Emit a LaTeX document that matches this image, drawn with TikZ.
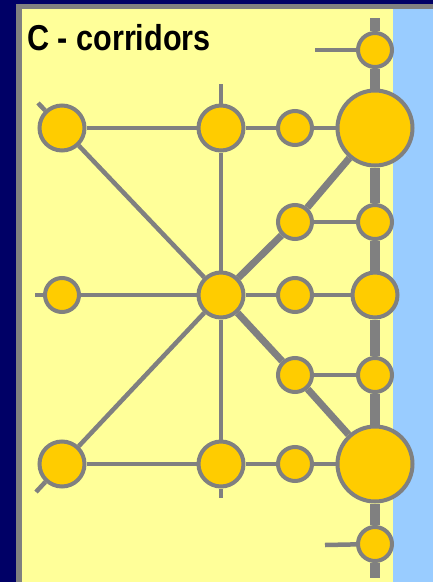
\documentclass[tikz,border=0pt]{standalone}
\usepackage{fontspec}
\setmainfont{Liberation Sans}
\usepackage{graphicx}

\definecolor{deepnavy}{HTML}{000066}
\definecolor{linegrey}{HTML}{808080}
\definecolor{paneyellow}{HTML}{FFFF99}
\definecolor{waterblue}{HTML}{99CCFF}
\definecolor{stopyellow}{HTML}{FFCC00}

\begin{document}
\begin{tikzpicture}[x=1pt,y=-1pt,
    stop/.style={circle,draw=linegrey,line width=4pt,fill=stopyellow,inner sep=0pt},
    sstop/.style={stop,minimum size=34pt},
    mstop/.style={stop,minimum size=45pt},
    bstop/.style={stop,minimum size=75pt},
    road/.style={draw=linegrey,line width=4.5pt},
    corridor/.style={draw=linegrey,line width=7pt},
    spine/.style={draw=linegrey,line width=10pt}]
    \useasboundingbox (0,0) rectangle (433,582);

    % panels
    \fill[deepnavy] (0,0) rectangle (433,582);
    \fill[linegrey] (16,4) rectangle (433,582);
    \fill[paneyellow] (22,9) rectangle (393,582);
    \fill[waterblue] (393,9) rectangle (433,582);

    \node[anchor=base west,inner sep=0pt,font=\bfseries\fontsize{36}{36}\selectfont]
        (title) at (27,50) {\scalebox{0.85}[1]{C - corridors}};

    % stops
    \node[sstop] (d0) at (375,50) {};
    \node[mstop] (a1) at (62,128) {};
    \node[mstop] (b1) at (221,128) {};
    \node[sstop] (c1) at (295,128) {};
    \node[bstop] (d1) at (375,128) {};
    \node[sstop] (c2) at (295,222) {};
    \node[sstop] (d2) at (375,222) {};
    \node[sstop] (a3) at (62,295) {};
    \node[mstop] (b3) at (221,295) {};
    \node[sstop] (c3) at (295,295) {};
    \node[mstop] (d3) at (375,295) {};
    \node[sstop] (c4) at (295,375) {};
    \node[sstop] (d4) at (375,375) {};
    \node[mstop] (a5) at (62,464) {};
    \node[mstop] (b5) at (221,464) {};
    \node[sstop] (c5) at (295,464) {};
    \node[bstop] (d5) at (375,464) {};
    \node[sstop] (d6) at (375,544) {};

    % loose ends
    \coordinate (top) at (375,18);
    \coordinate (bot) at (375,578);
    \coordinate (btop) at (221,84);
    \coordinate (bbot) at (221,498);
    \coordinate (nw) at (38,103);
    \coordinate (sw) at (36,492);
    \coordinate (w) at (35,295);
    \coordinate (ntail) at (315,50);
    \coordinate (stail) at (325,545);

    \path
    (a1)    edge[road]      (b1)
    (b1)    edge[road]      (c1)
    (c1)    edge[road]      (d1)
    (w)     edge[road]      (a3)
    (a3)    edge[road]      (b3)
    (b3)    edge[road]      (c3)
    (c3)    edge[road]      (d3)
    (a5)    edge[road]      (b5)
    (b5)    edge[road]      (c5)
    (c5)    edge[road]      (d5)
    (c2)    edge[road]      (d2)
    (c4)    edge[road]      (d4)
    (nw)    edge[road]      (a1)
    (a1)    edge[road]      (b3)
    (sw)    edge[road]      (a5)
    (a5)    edge[road]      (b3)
    (btop)  edge[road]      (b1)
    (b1)    edge[road]      (b3)
    (b3)    edge[road]      (b5)
    (b5)    edge[road]      (bbot)
    (ntail) edge[road]      (d0)
    (stail) edge[road]      (d6)
    (b3)    edge[corridor]  (c2)
    (c2)    edge[corridor]  (d1)
    (b3)    edge[corridor]  (c4)
    (c4)    edge[corridor]  (d5);

    \foreach \u/\v in {top/d0,d0/d1,d1/d2,d2/d3,d3/d4,d4/d5,d5/d6,d6/bot}
        {\draw[spine] (\u) -- (\v);}
\end{tikzpicture}
\end{document}
